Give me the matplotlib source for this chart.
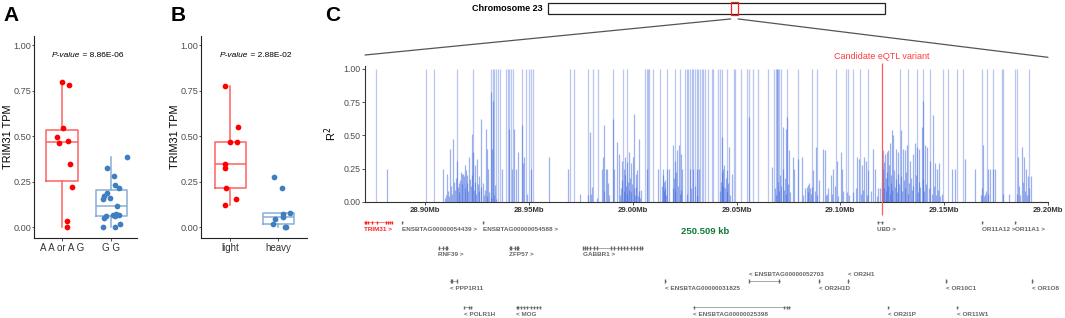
import matplotlib
matplotlib.use("Agg")
import matplotlib.pyplot as plt
import numpy as np
from matplotlib.patches import Rectangle, ConnectionPatch

plt.rcParams['font.family'] = ['Liberation Sans', 'DejaVu Sans']

# ---------------- Panel A data ----------------
a_groups = ["A A or A G", "G G"]
a_red = [0.798, 0.782, 0.548, 0.496, 0.465, 0.472, 0.350, 0.221, 0.037, 0.000]
a_red_jit = [-0.01, 0.15, 0.02, -0.10, -0.07, 0.12, 0.17, 0.20, 0.10, 0.09]
a_blue = [0.386, 0.326, 0.282, 0.235, 0.218, 0.188, 0.174, 0.163, 0.156, 0.117,
          0.075, 0.070, 0.066, 0.060, 0.060, 0.053, 0.020, 0.000, 0.000]
a_blue_jit = [0.31, -0.08, 0.06, 0.07, 0.16, -0.09, -0.14, -0.03, -0.17, 0.12,
              0.09, 0.03, 0.16, 0.07, -0.11, -0.15, 0.17, -0.18, 0.08]
a_pval = "8.86E-06"

# ---------------- Panel B data ----------------
b_groups = ["light", "heavy"]
b_red = [0.778, 0.549, 0.471, 0.469, 0.346, 0.326, 0.216, 0.158, 0.121]
b_red_jit = [-0.11, 0.16, 0.00, 0.14, -0.12, -0.10, -0.09, 0.12, -0.10]
b_blue = [0.275, 0.218, 0.081, 0.075, 0.057, 0.048, 0.020, 0.000, 0.000]
b_blue_jit = [-0.09, 0.08, 0.24, 0.11, 0.09, -0.06, -0.10, 0.14, 0.17]
b_pval = "2.88E-02"

# ---------------- Panel C data ----------------
chrom_name = "Chromosome 23"
chrom_len_mb = 52.5
region_mb = [28.8711, 29.2000]
candidate_mb = 29.1199
distance_label = "250.509 kb"
x_ticks_mb = [28.90, 28.95, 29.00, 29.05, 29.10, 29.15, 29.20]
r2_ticks = [0.00, 0.25, 0.50, 0.75, 1.00]

# SNPs in complete LD (R^2 = 1)
ld_full_pos = [28.8764, 28.9003, 28.9043, 28.9156, 28.9230, 28.9318, 28.9326, 28.9334,
               28.9342, 28.9353, 28.9361, 28.9390, 28.9398, 28.9404, 28.9414, 28.9422,
               28.9467, 28.9485, 28.9502, 28.9510, 28.9520, 28.9700, 28.9719, 28.9783,
               28.9810, 28.9834, 28.9907, 28.9955, 28.9971, 29.0059, 29.0067, 29.0075,
               29.0080, 29.0099, 29.0132, 29.0167, 29.0204, 29.0228, 29.0252, 29.0260,
               29.0268, 29.0276, 29.0284, 29.0292, 29.0300, 29.0308, 29.0316, 29.0324,
               29.0332, 29.0340, 29.0348, 29.0364, 29.0380, 29.0388, 29.0412, 29.0420,
               29.0429, 29.0453, 29.0488, 29.0495, 29.0522, 29.0549, 29.0562, 29.0581,
               29.0605, 29.0653, 29.0682, 29.0689, 29.0694, 29.0697, 29.0701, 29.0706,
               29.0713, 29.0742, 29.0797, 29.0862, 29.0886, 29.0980, 29.1027, 29.1038,
               29.1062, 29.1095, 29.1135, 29.1287, 29.1327, 29.1368, 29.1399, 29.1432,
               29.1496, 29.1520, 29.1560, 29.1592, 29.1681, 29.1705, 29.1736, 29.1777,
               29.1785, 29.1841, 29.1849, 29.1908]

# SNPs with partial LD
ld_pos = [
    28.8819, 28.9088, 28.9108, 28.9120, 28.9136, 28.9152, 28.9164, 28.9177, 28.9185, 28.9194,
    28.9204, 28.9213, 28.9225, 28.9233, 28.9242, 28.9252, 28.9260, 28.9268, 28.9278, 28.9292,
    28.9297, 28.9305, 28.9316, 28.9323, 28.9329, 28.9337, 28.9369, 28.9406, 28.9417, 28.9429,
    28.9437, 28.9448, 28.9465, 28.9473, 28.9478, 28.9490, 28.9509, 28.9599, 28.9690, 28.9746,
    28.9787,
    28.9096, 28.9102, 28.9110, 28.9116, 28.9124, 28.9130, 28.9140, 28.9146, 28.9150, 28.9158,
    28.9162, 28.9168, 28.9172, 28.9180, 28.9188, 28.9192, 28.9198, 28.9202, 28.9208, 28.9216,
    28.9220, 28.9228, 28.9236, 28.9240, 28.9246, 28.9256, 28.9262, 28.9272, 28.9282, 28.9288,
    28.9300, 28.9310, 28.9320, 28.9332, 28.9344,
    28.9794, 28.9803, 28.9851, 28.9855, 28.9862, 28.9872, 28.9878, 28.9883, 28.9904, 28.9910,
    28.9926, 28.9933, 28.9947, 28.9957, 28.9963, 28.9974, 28.9984, 28.9990, 29.0000, 29.0008,
    29.0016, 29.0022, 29.0032, 29.0038, 29.0067, 29.0124, 29.0148, 29.0156, 29.0167, 29.0173,
    29.0196, 29.0204, 29.0215, 29.0223, 29.0231, 29.0239, 29.0276, 29.0292, 29.0308, 29.0319,
    29.0428, 29.0436, 29.0453, 29.0465, 29.0477, 29.0562, 29.0669, 29.0725, 29.0737, 29.0745,
    29.0754, 29.0770, 29.0777, 29.0798, 29.0814, 29.0838, 29.0846, 29.0854, 29.0870, 29.0883,
    29.0896,
    28.9800, 28.9830, 28.9860, 28.9888, 28.9940, 28.9945, 28.9950, 28.9958, 28.9962, 28.9968,
    28.9972, 28.9978, 28.9982, 28.9988, 28.9994, 28.9998, 29.0004, 29.0012, 29.0018, 29.0026,
    29.0030, 29.0036,
    29.0142, 29.0146, 29.0150, 29.0152, 29.0158, 29.0162, 29.0194, 29.0200, 29.0206, 29.0210,
    29.0218, 29.0226, 29.0234, 29.0264, 29.0280, 29.0298, 29.0312,
    29.0420, 29.0425, 29.0430, 29.0434, 29.0440, 29.0444, 29.0448, 29.0456, 29.0460, 29.0470,
    29.0684, 29.0690, 29.0698, 29.0704, 29.0710, 29.0716, 29.0722, 29.0728, 29.0734, 29.0740,
    29.0750, 29.0760,
    29.0822, 29.0830, 29.0842, 29.0850, 29.0858, 29.0864, 29.0876, 29.0890,
    29.0918, 29.0926, 29.0934, 29.0953, 29.0963, 29.0982, 29.1001, 29.1008, 29.1030, 29.1082,
    29.1091, 29.1103, 29.1114, 29.1123, 29.1135, 29.1159, 29.1168, 29.1183,
    29.0930, 29.0940, 29.0960, 29.0972, 29.0990, 29.1012, 29.1040, 29.1060, 29.1075, 29.1098,
    29.1110, 29.1130, 29.1150, 29.1175, 29.1190,
    29.1207, 29.1215, 29.1223, 29.1231, 29.1239, 29.1247, 29.1255, 29.1268, 29.1279, 29.1290,
    29.1300, 29.1313, 29.1322, 29.1335, 29.1348, 29.1359, 29.1367, 29.1380, 29.1391, 29.1400,
    29.1408, 29.1419, 29.1434, 29.1444, 29.1456, 29.1467, 29.1477, 29.1488,
    29.1201, 29.1204, 29.1209, 29.1212, 29.1218, 29.1221, 29.1226, 29.1229, 29.1234, 29.1237,
    29.1242, 29.1245, 29.1250, 29.1258, 29.1262, 29.1266, 29.1272, 29.1276, 29.1282, 29.1294,
    29.1298, 29.1305, 29.1310, 29.1318, 29.1326, 29.1330, 29.1340, 29.1345, 29.1352, 29.1362,
    29.1372, 29.1378, 29.1386, 29.1396, 29.1404, 29.1412, 29.1425, 29.1440, 29.1450, 29.1462,
    29.1472, 29.1482,
    29.1536, 29.1552, 29.1600, 29.1648, 29.1685, 29.1696, 29.1709, 29.1721, 29.1737, 29.1745,
    29.1785, 29.1814, 29.1857, 29.1873, 29.1884, 29.1894, 29.1905, 29.1916,
    29.1675, 29.1682, 29.1690, 29.1700, 29.1712, 29.1852, 29.1860, 29.1866, 29.1878, 29.1888,
    29.1898, 29.1910,
]
ld_r2 = [
    0.25, 0.25, 0.21, 0.40, 0.475, 0.31, 0.14, 0.21, 0.21, 0.28,
    0.20, 0.34, 0.51, 0.375, 0.275, 0.325, 0.19, 0.625, 0.14, 0.55,
    0.40, 0.25, 0.825, 0.40, 0.76, 0.125, 0.25, 0.55, 0.25, 0.55,
    0.25, 0.375, 0.575, 0.29, 0.34, 0.06, 0.25, 0.34, 0.25, 0.06,
    0.05,
    0.03, 0.05, 0.08, 0.04, 0.12, 0.06, 0.15, 0.09, 0.18, 0.11,
    0.07, 0.16, 0.22, 0.13, 0.19, 0.10, 0.24, 0.14, 0.08, 0.17,
    0.12, 0.20, 0.09, 0.15, 0.06, 0.13, 0.08, 0.11, 0.05, 0.09,
    0.04, 0.07, 0.03, 0.05, 0.02,
    0.525, 0.11, 0.25, 0.34, 0.575, 0.25, 0.25, 0.14, 0.625, 0.25,
    0.45, 0.36, 0.31, 0.25, 0.34, 0.30, 0.375, 0.29, 0.34, 0.66,
    0.21, 0.24, 0.475, 0.09, 0.25, 0.25, 0.25, 0.16, 0.25, 0.25,
    0.425, 0.31, 0.39, 0.425, 0.36, 0.25, 0.25, 0.25, 0.25, 0.25,
    0.49, 0.25, 0.24, 0.41, 0.21, 0.64, 0.26, 0.56, 0.55, 0.64,
    0.39, 0.34, 0.25, 0.325, 0.34, 0.11, 0.125, 0.10, 0.24, 0.41,
    0.16,
    0.06, 0.03, 0.08, 0.05, 0.05, 0.10, 0.16, 0.08, 0.20, 0.12,
    0.06, 0.15, 0.09, 0.18, 0.07, 0.13, 0.10, 0.05, 0.11, 0.04,
    0.08, 0.03,
    0.12, 0.20, 0.08, 0.15, 0.10, 0.05, 0.10, 0.18, 0.08, 0.22,
    0.12, 0.06, 0.09, 0.06, 0.10, 0.12, 0.05,
    0.08, 0.15, 0.22, 0.12, 0.28, 0.10, 0.18, 0.07, 0.14, 0.05,
    0.10, 0.05, 0.15, 0.08, 0.20, 0.12, 0.25, 0.09, 0.18, 0.06,
    0.13, 0.07,
    0.05, 0.10, 0.07, 0.14, 0.06, 0.11, 0.08, 0.05,
    0.40, 0.39, 0.06, 0.20, 0.25, 0.31, 0.375, 0.25, 0.075, 0.34,
    0.325, 0.275, 0.34, 0.31, 0.24, 0.40, 0.25, 0.10,
    0.05, 0.10, 0.06, 0.12, 0.04, 0.08, 0.05, 0.07, 0.10, 0.06,
    0.09, 0.05, 0.08, 0.04, 0.10,
    0.39, 0.36, 0.375, 0.39, 0.44, 0.54, 0.50, 0.40, 0.375, 0.54,
    0.40, 0.39, 0.425, 0.31, 0.36, 0.44, 0.41, 0.40, 0.56, 0.76,
    0.425, 0.41, 0.31, 0.65, 0.29, 0.25, 0.29, 0.06,
    0.15, 0.25, 0.10, 0.30, 0.18, 0.08, 0.22, 0.12, 0.28, 0.06,
    0.20, 0.14, 0.09, 0.24, 0.11, 0.17, 0.07, 0.21, 0.13, 0.19,
    0.08, 0.16, 0.10, 0.22, 0.06, 0.14, 0.18, 0.09, 0.12, 0.20,
    0.07, 0.15, 0.11, 0.17, 0.08, 0.13, 0.10, 0.06, 0.12, 0.05,
    0.09, 0.04,
    0.25, 0.25, 0.325, 0.25, 0.425, 0.06, 0.25, 0.25, 0.25, 0.25,
    0.06, 0.06, 0.34, 0.41, 0.34, 0.25, 0.19, 0.19,
    0.05, 0.10, 0.04, 0.08, 0.06, 0.06, 0.12, 0.05, 0.15, 0.08,
    0.05, 0.10,
]

# Gene annotation track
gene_names = ["TRIM31", "ENSBTAG00000054439", "ENSBTAG00000054588", "UBD", "OR11A12", "OR11A1",
              "RNF39", "ZFP57", "GABBR1",
              "ENSBTAG00000052703", "OR2H1", "PPP1R11", "ENSBTAG00000031825", "OR2H1D", "OR10C1", "OR1O8",
              "POLR1H", "MOG", "ENSBTAG00000025398", "OR2I1P", "OR11W1"]
gene_start = [28.8706, 28.8889, 28.9279, 29.1178, 29.1680, 29.1841,
              28.9064, 28.9406, 28.9762,
              29.0562, 29.1035, 28.9120, 29.0156, 29.0899, 29.1507, 29.1921,
              28.9189, 28.9438, 29.0292, 29.1228, 29.1560]
gene_end = [28.8841, 28.8895, 28.9282, 29.1207, 29.1687, 29.1846,
            28.9109, 28.9453, 29.0048,
            29.0709, 29.1040, 28.9156, 29.0160, 29.0904, 29.1512, 29.1926,
            28.9225, 28.9559, 29.0757, 29.1233, 29.1565]
gene_strand = ["+", "+", "+", "+", "+", "+",
               "+", "+", "+",
               "-", "-", "-", "-", "-", "-", "-",
               "-", "-", "-", "-", "-"]
gene_row = [0, 0, 0, 0, 0, 0,
            1, 1, 1,
            2, 2, 2, 2, 2, 2, 2,
            3, 3, 3, 3, 3]
gene_label_above = [False] * 9 + [True, True] + [False] * 10
gene_exons = {
    "TRIM31": [28.8709, 28.8717, 28.8726, 28.8747, 28.8769, 28.8812, 28.8822, 28.8831, 28.8839],
    "RNF39": [28.9065, 28.9087, 28.9101, 28.9108],
    "ZFP57": [28.9407, 28.9414, 28.9431, 28.9441, 28.9450],
    "GABBR1": [28.9763, 28.9770, 28.9778, 28.9794, 28.9816, 28.9826, 28.9898, 28.9912, 28.9929,
               28.9944, 28.9958, 28.9975, 28.9992, 29.0006, 29.0023, 29.0035, 29.0045],
    "PPP1R11": [28.9123, 28.9130, 28.9152],
    "POLR1H": [28.9190, 28.9214, 28.9221],
    "MOG": [28.9441, 28.9450, 28.9460, 28.9477, 28.9491, 28.9508, 28.9525, 28.9539, 28.9556],
    "ENSBTAG00000025398": [29.0293, 29.0731, 29.0741, 29.0755],
    "ENSBTAG00000052703": [29.0562, 29.0707],
    "UBD": [29.1179, 29.1203],
}

# ---------------- Figure ----------------
W, H = 1065, 318
fig = plt.figure(figsize=(W / 100, H / 100), dpi=100)


def ax_px(l, t, r, b):
    return fig.add_axes([l / W, 1 - b / H, (r - l) / W, (b - t) / H])


RED = "#FF0000"
RED_BOX = "#FF6262"
BLUE = "#3F7FBF"
BLUE_BOX = "#86ADD6"
GREY_TXT = "#4D4D4D"


def draw_group(ax, pos, vals, jit, pt_color, box_color):
    ax.boxplot([vals], positions=[pos], widths=0.64, whis=1.5, showfliers=False,
               boxprops=dict(color=box_color, lw=1.1),
               medianprops=dict(color=box_color, lw=1.1),
               whiskerprops=dict(color=box_color, lw=1.1),
               capprops=dict(lw=0), manage_ticks=False)
    ax.scatter(pos + np.asarray(jit), vals, s=17, color=pt_color, zorder=3, linewidths=0)


def style_box_ax(ax, groups, xlim, pval, label_x):
    ax.set_xlim(*xlim)
    ax.set_ylim(-0.058, 1.05)
    ax.set_yticks([0, 0.25, 0.5, 0.75, 1.0])
    ax.set_yticklabels(["0.00", "0.25", "0.50", "0.75", "1.00"], fontsize=6.6, color=GREY_TXT)
    ax.set_xticks([1, 2])
    ax.set_xticklabels(groups, fontsize=7, color="#333333")
    ax.tick_params(axis="y", length=1.5, width=0.6, pad=0.6, colors="#333333")
    ax.tick_params(axis="x", length=2.0, width=0.6, pad=1.5, colors="#333333")
    for lbl in ax.get_yticklabels():
        lbl.set_color(GREY_TXT)
    for s in ["top", "right"]:
        ax.spines[s].set_visible(False)
    for s in ["left", "bottom"]:
        ax.spines[s].set_linewidth(0.8)
        ax.spines[s].set_color("#222222")
    ax.set_ylabel("TRIM31 TPM", fontsize=7.8)
    ax.yaxis.set_label_coords(label_x, 0.5)
    t1 = ax.annotate("P-value", xy=(1.5, 0.945), xycoords="data", xytext=(-25, 0),
                     textcoords="offset points", ha="left", va="center", fontsize=6,
                     style="italic")
    ax.annotate(" = " + pval, xy=(1, 0.5), xycoords=t1, ha="left", va="center", fontsize=6)


# Panel A
ax_a = ax_px(34, 36, 137, 238)
draw_group(ax_a, 1, a_red, a_red_jit, RED, RED_BOX)
draw_group(ax_a, 2, a_blue, a_blue_jit, BLUE, BLUE_BOX)
style_box_ax(ax_a, a_groups, (0.43, 2.52), a_pval, -0.205)

# Panel B
ax_b = ax_px(201, 36, 307, 238)
draw_group(ax_b, 1, b_red, b_red_jit, RED, RED_BOX)
draw_group(ax_b, 2, b_blue, b_blue_jit, BLUE, BLUE_BOX)
style_box_ax(ax_b, b_groups, (0.39, 2.6), b_pval, -0.198)

# Panel labels
for lab, xp in [("A", 11.5), ("B", 178), ("C", 332.5)]:
    fig.text(xp / W, 1 - 15.5 / H, lab, fontsize=15, fontweight="bold", ha="center", va="center")

# Panel C: LD plot
ax_c = ax_px(365, 66, 1048, 201.7)
ax_c.set_xlim(*region_mb)
ax_c.set_ylim(0, 1.022)
LD_COLOR = "#3D66DD"
ax_c.vlines(ld_full_pos, 0, 1.0, color=LD_COLOR, alpha=0.36, lw=0.9)
ax_c.vlines(ld_pos, 0, ld_r2, color=LD_COLOR, alpha=0.5, lw=0.9)
ax_c.vlines([candidate_mb], -0.1, 1.045, color="#FF5A5A", lw=0.9, clip_on=False, zorder=5)
ax_c.text(candidate_mb, 1.09, "Candidate eQTL variant", color="#FF3B3B", fontsize=6.5,
          ha="center", va="center")
ax_c.set_xticks(x_ticks_mb)
ax_c.set_xticklabels([f"{v:.2f}Mb" for v in x_ticks_mb], fontsize=5.6, fontweight="bold",
                     color="#333333")
ax_c.set_yticks(r2_ticks)
ax_c.set_yticklabels([f"{v:.2f}" for v in r2_ticks], fontsize=6.3, color=GREY_TXT)
ax_c.tick_params(axis="x", length=2, width=0.6, pad=1.5, colors="#333333")
ax_c.tick_params(axis="y", length=2, width=0.6, pad=1.5, colors="#333333")
for lbl in ax_c.get_yticklabels():
    lbl.set_color(GREY_TXT)
for s in ["top", "right"]:
    ax_c.spines[s].set_visible(False)
for s in ["left", "bottom"]:
    ax_c.spines[s].set_linewidth(0.8)
    ax_c.spines[s].set_color("#333333")
ax_c.set_ylabel("R$^2$", fontsize=8, labelpad=3)

# Chromosome ideogram
ax_chr = ax_px(548, 3, 885, 14)
ax_chr.set_xlim(0, chrom_len_mb)
ax_chr.set_ylim(0, 1)
ax_chr.axis("off")
ax_chr.add_patch(Rectangle((0, 0), chrom_len_mb, 1, facecolor="white", edgecolor="#222222",
                           lw=0.9, clip_on=False))
reg_c = (region_mb[0] + region_mb[1]) / 2
reg_w = 1.15
ax_chr.add_patch(Rectangle((reg_c - reg_w / 2, -0.1), reg_w, 1.2, facecolor="none",
                           edgecolor="#FF2020", lw=0.9, clip_on=False))
ax_chr.annotate(chrom_name, xy=(0, 0.5), xytext=(-4, 0), textcoords="offset points",
                ha="right", va="center", fontsize=6.5, fontweight="bold")
for xa, xb in [(reg_c - reg_w / 2, 0.0), (reg_c + reg_w / 2, 1.0)]:
    yb = 1.081 if xb == 0.0 else 1.064
    con = ConnectionPatch(xyA=(xa, -0.45), coordsA=ax_chr.transData,
                          xyB=(xb, yb), coordsB=ax_c.transAxes,
                          color="#555555", lw=0.9)
    fig.add_artist(con)

# Gene track
ax_g = ax_px(365, 212, 1048, 318)
ax_g.set_xlim(*region_mb)
ax_g.set_ylim(318, 212)
ax_g.axis("off")
row_y = [222.3, 247.7, 281.0, 307.3]
GENE_GREY = "#666666"
for name, st, en, strand, row, above in zip(gene_names, gene_start, gene_end, gene_strand,
                                            gene_row, gene_label_above):
    y = row_y[row]
    col = "#FF2020" if name == "TRIM31" else GENE_GREY
    ax_g.plot([st, en], [y, y], color=col, lw=0.4, clip_on=False)
    ex = gene_exons.get(name, [st])
    ax_g.vlines(ex, y - 1.8, y + 1.8, color=col, lw=1.0, clip_on=False)
    label = f"{name} >" if strand == "+" else f"< {name}"
    ly = y - 7.0 if above else y + 7.0
    ax_g.text(st, ly, label, fontsize=4.6, fontweight="bold", color=col,
              ha="left", va="center", clip_on=False)

# distance arrow TRIM31 -> candidate
arrow_y = 237.3
ax_g.annotate("", xy=(gene_start[0], arrow_y), xytext=(candidate_mb, arrow_y),
              arrowprops=dict(arrowstyle="<|-|>", color="#2E9A5E", lw=0.8,
                              mutation_scale=4, shrinkA=0, shrinkB=0))
ax_g.text(29.0348, 231.0, distance_label, color="#0E7A3A", fontsize=6.8, fontweight="bold",
          ha="center", va="center")

fig.savefig("out.png", dpi=100)
